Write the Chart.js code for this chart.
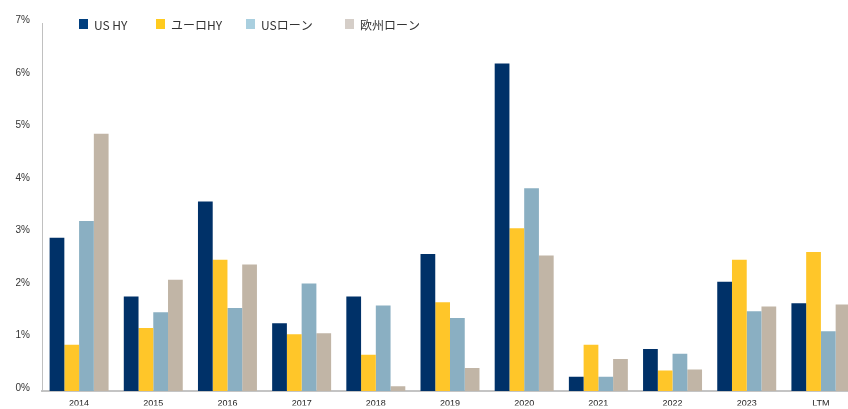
<!DOCTYPE html>
<html>
<head>
<meta charset="utf-8">
<script src="https://cdn.jsdelivr.net/npm/chart.js@4"></script>
<style>
  html, body { margin: 0; padding: 0; background: #fff; overflow: hidden; }
  #wrap { width: 860px; height: 409px; }
</style>
</head>
<body>
<div id="wrap"><canvas id="chart" width="860" height="409"></canvas></div>
<script>
// 카테고리와 시리즈 값 (%)
const years = ["2014", "2015", "2016", "2017", "2018", "2019", "2020", "2021", "2022", "2023", "LTM"];
const usHy = [2.92, 1.80, 3.61, 1.29, 1.80, 2.61, 6.24, 0.27, 0.80, 2.08, 1.67];
const euroHy = [0.88, 1.20, 2.50, 1.08, 0.69, 1.69, 3.10, 0.88, 0.39, 2.50, 2.65];
const usLoan = [3.24, 1.50, 1.58, 2.05, 1.63, 1.39, 3.86, 0.27, 0.71, 1.52, 1.14];
const euLoan = [4.90, 2.12, 2.41, 1.10, 0.09, 0.44, 2.58, 0.61, 0.41, 1.61, 1.65];
const yTicks = [0, 1, 2, 3, 4, 5, 6, 7];

const seriesNames = ["US HY", "ユーロHY", "USローン", "欧州ローン"];
const barColors = ["#003168", "#ffc629", "#8aafc2", "#c1b5a6"];
const swatchColors = ["#003f7f", "#ffcb1f", "#a9cfdf", "#d5cec8"];

/**
 * 범례를 플롯 위에 겹쳐 그린다 (원본 차트처럼 축 영역 안쪽).
 */
const overlayLegend = {
  id: "overlayLegend",
  afterDraw(chart, args, opts) {
    const ctx = chart.ctx;
    ctx.save();
    ctx.font = "12px 'Noto Sans CJK JP', 'Noto Sans', sans-serif";
    ctx.textBaseline = "middle";
    chart.data.datasets.forEach((ds, i) => {
      const x = opts.xs[i];
      ctx.fillStyle = swatchColors[i];
      ctx.fillRect(x, opts.y - 5, 9, 10);
      ctx.fillStyle = "#333";
      ctx.fillText(ds.label, x + 15, opts.y + 1);
    });
    ctx.restore();
  },
};

const datasets = [usHy, euroHy, usLoan, euLoan].map((data, i) => ({
  label: seriesNames[i],
  data,
  backgroundColor: barColors[i],
  borderWidth: 0,
  barPercentage: 1,
  categoryPercentage: 0.795,
}));

new Chart(document.getElementById("chart"), {
  type: "bar",
  data: { labels: years, datasets },
  plugins: [overlayLegend],
  options: {
    responsive: false,
    animation: false,
    layout: { padding: { top: 23.5, right: 2, left: 0, bottom: 0 } },
    plugins: {
      legend: { display: false },
      tooltip: { enabled: false },
      overlayLegend: { xs: [79, 156, 246, 345], y: 24 },
    },
    scales: {
      x: {
        grid: { display: false, drawTicks: false },
        border: { display: true, color: "#c4c4c4", width: 2 },
        ticks: {
          padding: 7,
          color: "#222",
          font: { family: "'Liberation Sans', Arial, sans-serif", size: 9 },
          maxRotation: 0,
          autoSkip: false,
        },
        afterFit: (scale) => { scale.height = 14.5; },
      },
      y: {
        min: 0,
        max: 7,
        afterBuildTicks: (scale) => { scale.ticks = yTicks.map((v) => ({ value: v })); },
        grid: { display: false, drawTicks: false },
        border: { display: true, color: "#c0c0c0", width: 1 },
        ticks: {
          padding: 12,
          labelOffset: -3,
          color: "#333",
          font: { family: "'Liberation Sans', Arial, sans-serif", size: 10 },
          callback: (v) => `${v}%`,
        },
        afterFit: (scale) => { scale.width = 42; },
      },
    },
  },
});
</script>
</body>
</html>
